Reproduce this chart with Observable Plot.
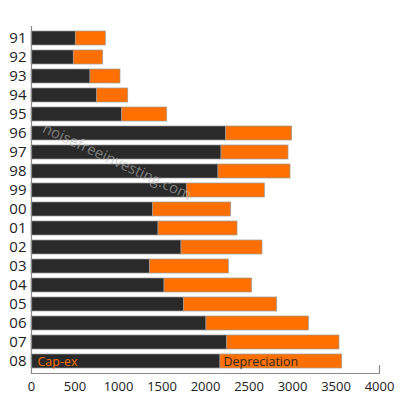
<!DOCTYPE html>
<html>
<head>
<meta charset="utf-8">
<script src="https://cdn.jsdelivr.net/npm/d3@7"></script>
<script src="https://cdn.jsdelivr.net/npm/@observablehq/plot@0.6"></script>
<style>
  html, body { margin: 0; padding: 0; background: #fff; }
  #chart svg { display: block; }
</style>
</head>
<body>
<div id="chart"></div>
<script>
const years = ["91","92","93","94","95","96","97","98","99","00","01","02","03","04","05","06","07","08"];
const capex = [509, 486, 678, 755, 1042, 2237, 2184, 2149, 1789, 1398, 1460, 1724, 1360, 1529, 1752, 2011, 2249, 2172];
const totals = [854, 824, 1023, 1112, 1560, 2996, 2954, 2977, 2682, 2295, 2368, 2655, 2268, 2536, 2824, 3188, 3540, 3571];
const seriesNames = ["Cap-ex", "Depreciation"];
const seriesColors = ["#2a2a2a", "#ff7000"];
const xTicks = [0, 500, 1000, 1500, 2000, 2500, 3000, 3500, 4000];
const watermark = "noisefreeinvesting.com";

const rows = [];
years.forEach((y, i) => {
  rows.push({year: y, series: seriesNames[0], value: capex[i]});
  rows.push({year: y, series: seriesNames[1], value: totals[i] - capex[i]});
});
const last = years[years.length - 1];
const lastIdx = years.length - 1;

const chart = Plot.plot({
  width: 400,
  height: 396,
  marginLeft: 31,
  marginRight: 21,
  marginTop: 26,
  marginBottom: 23,
  style: {fontFamily: "'Open Sans', sans-serif", background: "#fff"},
  x: {domain: [0, 4000], ticks: xTicks},
  y: {domain: years, paddingInner: 0.27, paddingOuter: 0.135},
  color: {domain: seriesNames, range: seriesColors},
  marks: [
    Plot.barX(rows, {x: "value", y: "year", fill: "series", stroke: "#9a9a9a", strokeWidth: 0.7, order: seriesNames}),
    Plot.ruleX([0], {stroke: "#8a8a8a", strokeWidth: 1.2}),
    Plot.frame({anchor: "bottom", stroke: "#8a8a8a", strokeWidth: 1.2}),
    Plot.axisX({ticks: [4000], tickSize: -8, stroke: "#8a8a8a", strokeWidth: 1.2, text: null, label: null}),
    Plot.axisX({ticks: xTicks, tickFormat: d3.format("d"), tickSize: 0, tickPadding: 8, fontSize: 13, fill: "#222", label: null}),
    Plot.axisY({tickSize: 0, tickPadding: 5, fontSize: 15, fill: "#222", label: null}),
    Plot.text([seriesNames[0]], {x: 0, y: () => last, text: d => d, textAnchor: "start", dx: 6, fill: seriesColors[1], fontSize: 12.5, fontWeight: 500}),
    Plot.text([seriesNames[1]], {x: () => capex[lastIdx], y: () => last, text: d => d, textAnchor: "start", dx: 3, fill: "#2a2a2a", fontSize: 12.5}),
    Plot.text([watermark], {frameAnchor: "top-left", dx: 88, dy: 130, text: d => d, rotate: 25, fill: "#b8b8b8", fillOpacity: 0.6, fontSize: 15, textAnchor: "middle"})
  ]
});
document.getElementById("chart").appendChild(chart);
</script>
</body>
</html>
